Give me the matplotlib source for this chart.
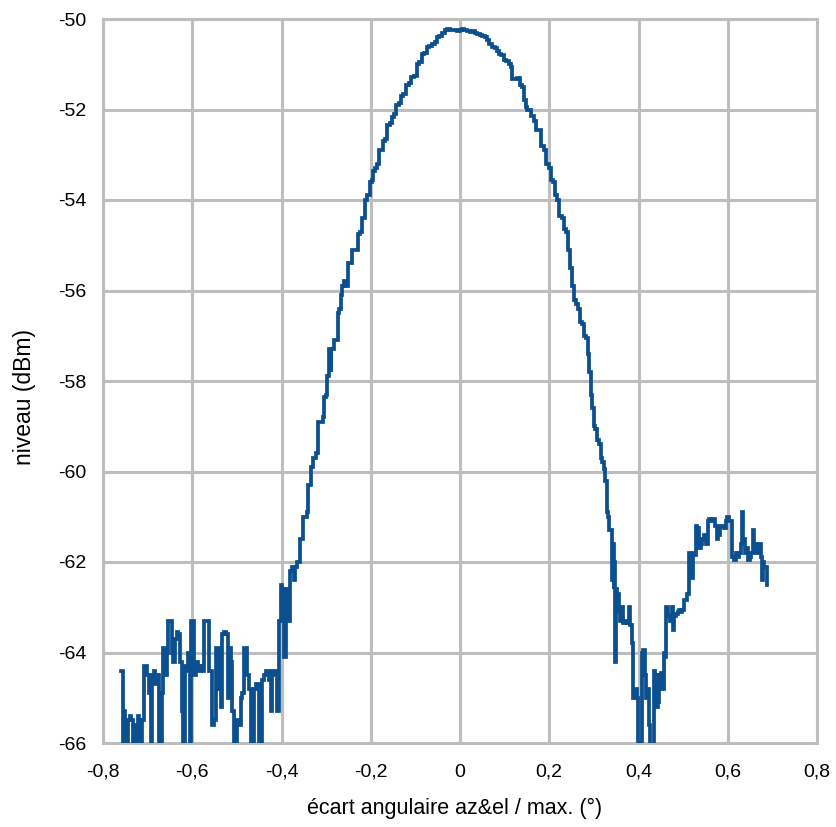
import matplotlib
matplotlib.use("Agg")
import matplotlib.pyplot as plt
from matplotlib.ticker import FuncFormatter

# angular offset (deg) and level (dBm); values below -66 are clipped by the axis
ecart = [
    -0.760, -0.757, -0.755, -0.752, -0.749, -0.745, -0.742, -0.738, -0.735, -0.731,
    -0.728, -0.724, -0.721, -0.717, -0.714, -0.710, -0.706, -0.703, -0.699, -0.695,
    -0.692, -0.688, -0.684, -0.681, -0.677, -0.674, -0.670, -0.666, -0.663, -0.659,
    -0.655, -0.652, -0.648, -0.644, -0.641, -0.637, -0.633, -0.630, -0.626, -0.622,
    -0.619, -0.615, -0.611, -0.608, -0.604, -0.600, -0.597, -0.593,
    -0.589, -0.586, -0.582, -0.578, -0.575, -0.571, -0.568, -0.564, -0.560, -0.557,
    -0.553, -0.549, -0.545, -0.542, -0.538, -0.534, -0.531, -0.527, -0.523, -0.519,
    -0.516, -0.512, -0.508, -0.504, -0.501, -0.497, -0.493, -0.490, -0.486, -0.482,
    -0.478, -0.475, -0.471, -0.467, -0.463, -0.460, -0.456, -0.452, -0.449, -0.445,
    -0.441, -0.437, -0.434, -0.430, -0.426, -0.423, -0.419, -0.415, -0.411, -0.408,
    -0.404, -0.400, -0.397, -0.393, -0.389, -0.386, -0.382, -0.378, -0.374, -0.371,
    -0.367, -0.363, -0.359, -0.356, -0.352, -0.350, -0.345, -0.342, -0.340,
    -0.336, -0.332, -0.329, -0.325, -0.321, -0.317, -0.314, -0.310, -0.306, -0.302,
    -0.299, -0.295, -0.291, -0.289, -0.287, -0.284, -0.280, -0.276, -0.273, -0.269,
    -0.265, -0.262, -0.258, -0.253, -0.249, -0.245, -0.240, -0.235, -0.230, -0.226,
    -0.222, -0.218, -0.214, -0.210, -0.205, -0.200, -0.196, -0.192, -0.188, -0.184,
    -0.180, -0.176, -0.170, -0.166, -0.160, -0.155, -0.150, -0.145, -0.140, -0.135,
    -0.130, -0.125, -0.118, -0.112, -0.106, -0.100, -0.094, -0.088, -0.083, -0.077,
    -0.072, -0.066, -0.060, -0.054, -0.049, -0.043, -0.037, -0.032, -0.026, -0.020,
    -0.015, -0.009, -0.004, 0.002, 0.007, 0.013, 0.019, 0.024, 0.030, 0.035,
    0.041, 0.047, 0.052, 0.058, 0.063, 0.069, 0.075, 0.080, 0.086, 0.090,
    0.095, 0.101, 0.106, 0.112, 0.116, 0.119, 0.125, 0.131, 0.136, 0.142,
    0.146, 0.148, 0.153, 0.157, 0.162, 0.168, 0.174, 0.179, 0.185, 0.190,
    0.196, 0.202, 0.207, 0.211, 0.215, 0.220, 0.225, 0.230, 0.236, 0.240,
    0.245, 0.250, 0.254, 0.258, 0.262, 0.267, 0.272, 0.276, 0.280, 0.284,
    0.288, 0.291, 0.295, 0.298, 0.301, 0.305, 0.309, 0.313, 0.317, 0.320,
    0.324, 0.328, 0.330, 0.333, 0.336, 0.339, 0.341, 0.343, 0.345, 0.347,
    0.349, 0.351, 0.354, 0.357, 0.360, 0.364, 0.368, 0.372, 0.376, 0.380,
    0.383, 0.386, 0.389, 0.392, 0.395, 0.398, 0.401, 0.403, 0.406, 0.409,
    0.412, 0.415, 0.418, 0.421, 0.424, 0.427, 0.430, 0.433, 0.436, 0.439,
    0.442, 0.445, 0.448, 0.452, 0.455, 0.458, 0.461, 0.464, 0.467, 0.470,
    0.473, 0.476, 0.479, 0.482, 0.486, 0.490, 0.493, 0.497, 0.500, 0.504,
    0.508, 0.511, 0.514, 0.517, 0.520, 0.523, 0.527, 0.530, 0.534, 0.537,
    0.541, 0.545, 0.549, 0.553, 0.557, 0.561, 0.565, 0.569, 0.573, 0.577,
    0.581, 0.585, 0.589, 0.593, 0.597, 0.601, 0.605, 0.609, 0.612, 0.616,
    0.620, 0.624, 0.628, 0.631, 0.633, 0.636, 0.640, 0.643, 0.647, 0.651,
    0.655, 0.658, 0.661, 0.665, 0.669, 0.673, 0.675, 0.677, 0.679, 0.682,
    0.686, 0.689,
]

niveau = [
    -64.4, -64.4, -67.0, -65.3, -67.0, -67.0, -65.5, -65.4, -65.5, -66.3,
    -65.6, -67.0, -65.4, -65.5, -67.0, -65.5, -64.3, -64.3, -64.5, -64.9,
    -67.0, -64.5, -64.4, -64.7, -64.5, -67.0, -67.0, -64.9, -63.9, -64.5,
    -64.0, -63.3, -63.3, -64.0, -64.2, -63.7, -63.55, -63.6, -64.2, -65.3,
    -67.0, -64.3, -64.4, -64.0, -67.0, -63.3, -63.3, -64.5,
    -64.2, -64.3, -64.4, -64.3, -64.4, -63.3, -63.3, -63.3, -64.4, -64.4,
    -65.6, -65.5, -63.9, -63.9, -64.8, -65.2, -63.6, -63.55, -63.6, -65.0,
    -63.9, -64.2, -65.3, -67.0, -67.0, -65.5, -65.6, -65.0, -64.9, -63.9,
    -63.9, -64.5, -64.8, -67.0, -67.0, -64.8, -64.7, -64.7, -67.0, -67.0,
    -64.6, -64.5, -64.4, -64.4, -64.6, -65.3, -64.4, -64.5, -64.4, -65.3,
    -63.3, -62.5, -62.6, -64.1, -62.6, -62.7, -63.3, -62.2, -62.1, -62.4,
    -62.1, -62.0, -62.0, -61.5, -61.5, -61.0, -61.0, -60.9, -60.3,
    -60.3, -59.9, -59.7, -59.7, -59.6, -58.9, -58.9, -58.9, -58.8, -58.35,
    -58.3, -57.9, -57.3, -57.8, -57.3, -57.3, -57.1, -57.1, -56.5, -56.4,
    -56.1, -55.9, -55.8, -55.9, -55.4, -55.4, -55.1, -55.1, -55.1, -54.75,
    -54.7, -54.4, -54.4, -54.0, -53.9, -53.6, -53.55, -53.35, -53.3, -53.2,
    -52.9, -52.9, -52.7, -52.65, -52.35, -52.3, -52.17, -52.1, -51.9, -51.85,
    -51.7, -51.65, -51.45, -51.42, -51.28, -51.25, -51.0, -50.95, -50.78, -50.75,
    -50.62, -50.6, -50.55, -50.5, -50.4, -50.38, -50.3, -50.25, -50.22, -50.25,
    -50.24, -50.25, -50.27, -50.25, -50.22, -50.24, -50.27, -50.28, -50.27, -50.3,
    -50.33, -50.35, -50.37, -50.4, -50.46, -50.55, -50.62, -50.65, -50.7, -50.78,
    -50.8, -50.9, -50.92, -51.0, -51.05, -51.33, -51.33, -51.3, -51.45, -51.5,
    -51.8, -51.95, -52.0, -52.0, -52.15, -52.25, -52.45, -52.45, -52.8, -52.9,
    -53.2, -53.3, -53.55, -53.6, -53.9, -54.0, -54.35, -54.4, -54.65, -54.7,
    -55.1, -55.5, -55.9, -56.2, -56.3, -56.4, -56.7, -56.75, -57.0, -57.05,
    -57.4, -57.8, -58.3, -58.6, -59.0, -59.05, -59.3, -59.4, -59.7, -59.8,
    -59.95, -60.2, -60.9, -61.0, -61.3, -61.3, -62.4, -61.6, -62.6, -62.0,
    -64.2, -62.6, -62.7, -63.1, -63.3, -63.0, -63.35, -63.3, -63.35, -63.0,
    -63.4, -63.8, -65.0, -65.0, -64.8, -65.0, -66.0, -67.0, -67.0, -64.0,
    -63.95, -64.5, -65.0, -64.8, -65.6, -67.0, -67.0, -67.0, -64.4, -64.5,
    -65.2, -65.1, -64.5, -64.45, -64.8, -64.0, -64.1, -63.0, -63.2, -63.2,
    -63.3, -63.0, -63.5, -63.2, -63.15, -63.1, -63.06, -63.1, -63.06, -62.85,
    -62.84, -62.7, -61.8, -62.3, -62.35, -61.8, -61.85, -61.2, -61.25, -61.7,
    -61.6, -61.5, -61.4, -61.6, -61.1, -61.05, -61.1, -61.05, -61.2, -61.5,
    -61.4, -61.2, -61.2, -61.25, -61.1, -61.0, -61.1, -61.1, -61.9, -61.95,
    -61.8, -61.9, -61.8, -61.6, -60.9, -61.5, -61.8, -61.7, -61.95, -61.9,
    -61.8, -61.3, -61.6, -61.8, -61.7, -61.6, -61.9, -62.4, -62.0, -62.1,
    -62.1, -62.5,
]

x_ticks = [-0.8, -0.6, -0.4, -0.2, 0.0, 0.2, 0.4, 0.6, 0.8]
y_ticks = [-66, -64, -62, -60, -58, -56, -54, -52, -50]

plt.rcParams['font.family'] = ['Liberation Sans', 'DejaVu Sans']

W, H = 836, 827
fig = plt.figure(figsize=(W / 100, H / 100), dpi=100)
ax = fig.add_axes([103 / W, 1 - 743 / H, (817 - 103) / W, (743 - 19) / H])

grid_c = '#BEBEBE'
ax.plot(ecart, niveau, color='#0B4F8E', lw=2.7, drawstyle='steps-mid',
        solid_joinstyle='miter', zorder=3)

ax.set_xlim(-0.8, 0.8)
ax.set_ylim(-66, -50)
ax.set_xticks(x_ticks)
ax.set_yticks(y_ticks)

def fmt(v, pos):
    s = f"{v:.1f}" if abs(v) > 1e-9 else "0"
    return s.replace('.', ',')

ax.xaxis.set_major_formatter(FuncFormatter(fmt))
ax.yaxis.set_major_formatter(FuncFormatter(lambda v, p: f"{int(round(v))}"))

ax.grid(True, color=grid_c, lw=2.2, zorder=0)
ax.set_axisbelow(True)
for s in ax.spines.values():
    s.set_color(grid_c)
    s.set_linewidth(2.2)
ax.tick_params(length=0, labelsize=14, colors='black')
ax.tick_params(axis='x', pad=15)
ax.tick_params(axis='y', pad=12)

fig.text(455 / W, 1 - 808 / H, "écart angulaire az&el / max. (°)", ha='center',
         va='center', fontsize=15.5)
fig.text(24 / W, 1 - 397 / H, "niveau (dBm)", ha='center', va='center',
         rotation=90, fontsize=16.5)

fig.savefig('out.png', dpi=100)
